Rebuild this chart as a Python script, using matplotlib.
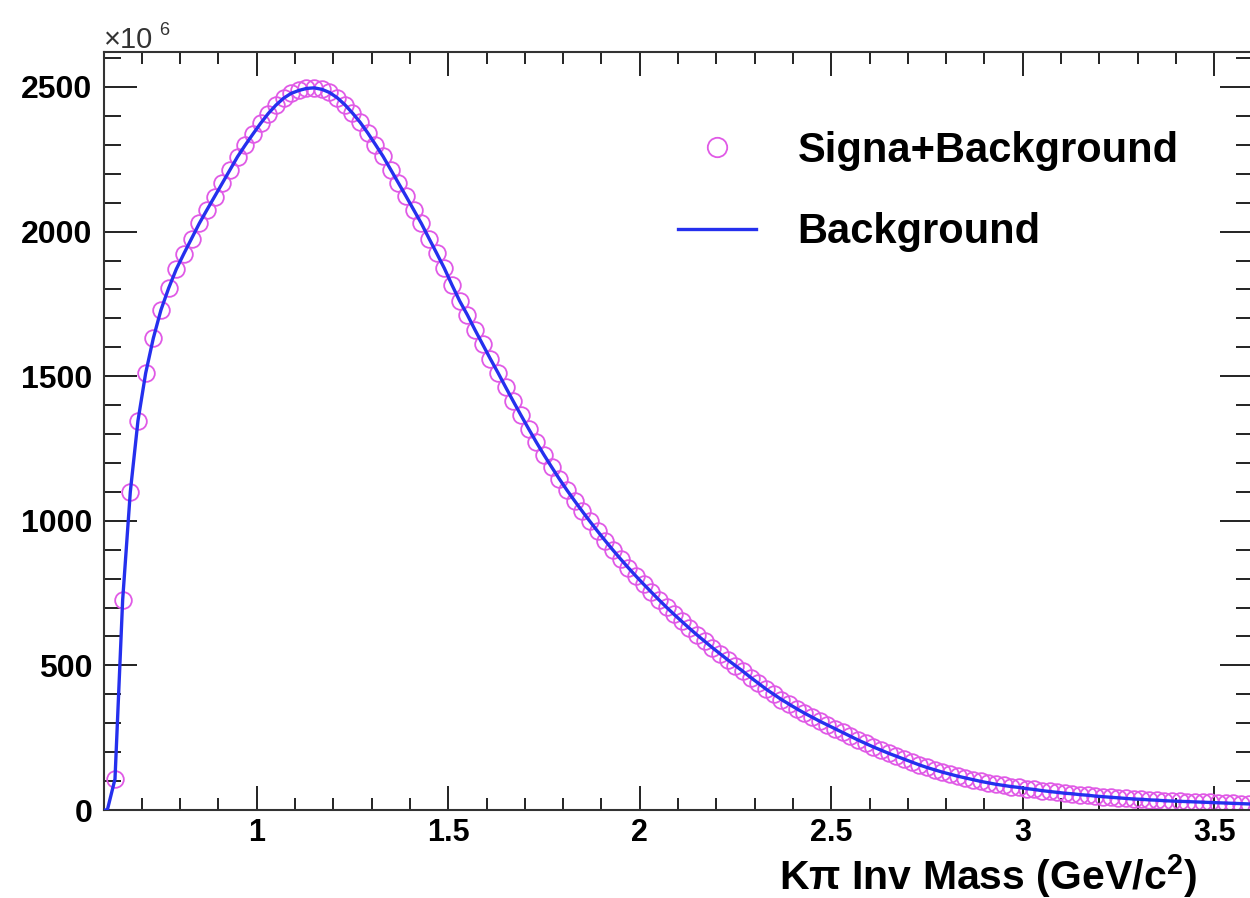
import numpy as np
import matplotlib
matplotlib.use("Agg")
import matplotlib.pyplot as plt
from matplotlib.ticker import MultipleLocator
from matplotlib.lines import Line2D

plt.rcParams['font.family'] = ['Liberation Sans', 'DejaVu Sans']
plt.rcParams['mathtext.fontset'] = 'custom'
plt.rcParams['mathtext.rm'] = 'Liberation Sans:bold'
plt.rcParams['mathtext.bf'] = 'Liberation Sans:bold'
plt.rcParams['mathtext.default'] = 'bf'

# K-pi invariant mass spectrum, 0.02 GeV bins starting at 0.60 (entries in units of 1e6)
bin_width = 0.02
first_center = 0.61
counts = [
    0, 107, 726, 1100, 1346, 1510, 1631, 1729, 1804, 1870,
    1924, 1976, 2028, 2075, 2121, 2167, 2213, 2259, 2299, 2337,
    2374, 2408, 2437, 2461, 2478, 2488, 2495, 2497, 2492, 2481,
    2463, 2439, 2410, 2378, 2341, 2301, 2260, 2214, 2168, 2122,
    2075, 2028, 1976, 1925, 1873, 1815, 1760, 1712, 1660, 1610,
    1560, 1512, 1462, 1413, 1365, 1318, 1272, 1228, 1186, 1145,
    1106, 1069, 1033, 998, 964, 931, 899, 868, 838, 809,
    781, 754, 727, 701, 676, 652, 628, 605, 583, 561,
    540, 519, 499, 479, 458, 438, 418, 400, 382, 366,
    350, 335, 321, 307, 294, 281, 268, 255, 242, 230,
    218, 207, 196, 186, 176, 166, 156, 147, 139, 131,
    124, 117, 111, 105, 99, 94, 89, 85, 81, 78,
    74, 71, 67, 64, 61, 58, 56, 53, 51, 48,
    46, 44, 42, 40, 38, 37, 35, 34, 32, 31,
    30, 29, 28, 27, 26, 25, 24, 23, 22, 21,
]
# fitted background follows the data points
background = list(counts)

centers = np.round(first_center + bin_width * np.arange(len(counts)), 2)
counts = np.array(counts, dtype=float)
background = np.array(background, dtype=float)

MARKER_COLOR = '#e05ae6'
LINE_COLOR = '#2530ee'

fig = plt.figure(figsize=(12.5, 8.98), dpi=100)
ax = fig.add_axes([103.5 / 1250, 1 - 810 / 898, (1252.5 - 103.5) / 1250, (810 - 52) / 898])

filled = counts > 0
ax.plot(centers[filled], counts[filled], linestyle='none', marker='o', markersize=12,
        markerfacecolor='none', markeredgecolor=MARKER_COLOR, markeredgewidth=1.3, zorder=2)
# background curve sits on zero below threshold
ax.plot(np.concatenate(([0.6], centers)), np.concatenate(([0.0], background)),
        color=LINE_COLOR, linewidth=2.4, zorder=3)

ax.set_xlim(0.6, 3.6)
ax.set_ylim(0, 2621)

ax.xaxis.set_major_locator(MultipleLocator(0.5))
ax.xaxis.set_minor_locator(MultipleLocator(0.1))
ax.yaxis.set_major_locator(MultipleLocator(500))
ax.yaxis.set_minor_locator(MultipleLocator(100))
ax.xaxis.set_major_formatter(plt.FuncFormatter(lambda v, p: f'{v:g}'))
ax.yaxis.set_major_formatter(plt.FuncFormatter(lambda v, p: f'{v:g}'))

ax.tick_params(which='both', direction='in', top=True, right=True, width=1.4, color='#222222')
ax.tick_params(axis='x', which='major', length=17, pad=6, labelsize=22)
ax.tick_params(axis='x', which='minor', length=8.5)
ax.tick_params(axis='y', which='major', length=24, pad=8, labelsize=23)
ax.tick_params(axis='y', which='minor', length=12)
for lab in ax.get_xticklabels() + ax.get_yticklabels():
    lab.set_fontweight('bold')
for sp in ax.spines.values():
    sp.set_linewidth(1.5)
    sp.set_color('#333333')

# exponent of the y axis
fig.text(104 / 1250, 1 - 48 / 898, '×10', fontsize=21, color='#333333',
         ha='left', va='baseline')
fig.text(159 / 1250, 1 - 35 / 898, '6', fontsize=13, color='#333333',
         ha='left', va='baseline')

fig.text(1197 / 1250, 1 - 890 / 898, r'K$\pi$ Inv Mass (GeV/c$^{2}$)', fontsize=29.5,
         fontweight='bold', ha='right', va='baseline')

handles = [
    Line2D([], [], linestyle='none', marker='o', markersize=14, markerfacecolor='none',
           markeredgecolor=MARKER_COLOR, markeredgewidth=1.3),
    Line2D([], [], color=LINE_COLOR, linewidth=2.4),
]
leg = ax.legend(handles, ['Signa+Background', 'Background'], loc='upper left',
                bbox_to_anchor=(678 / 1250, 1 - 131 / 898), bbox_transform=fig.transFigure,
                frameon=False, fontsize=30, handlelength=1.87, handletextpad=1.0,
                labelspacing=0.99, borderpad=0, borderaxespad=0)
for t in leg.get_texts():
    t.set_fontweight('bold')

fig.savefig('out.png', dpi=100)
